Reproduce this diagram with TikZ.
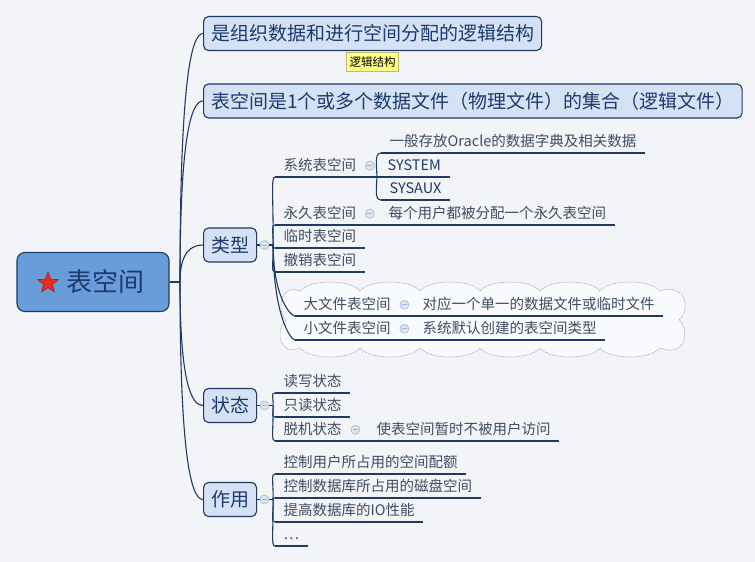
\documentclass[tikz,border=0pt]{standalone}
\usepackage{fontspec}
\setmainfont{Noto Sans CJK SC}
\usepackage{xcolor}
\usepackage{tikz}
\usetikzlibrary{positioning,shapes,calc}

\definecolor{bgC}{RGB}{243,244,248}
\definecolor{lineC}{RGB}{32,58,98}
\definecolor{mainC}{RGB}{28,58,108}
\definecolor{subC}{RGB}{62,76,98}
\definecolor{rootF}{RGB}{104,157,218}
\definecolor{topicF}{RGB}{213,226,246}
\definecolor{foldF}{RGB}{221,229,241}
\definecolor{foldD}{RGB}{160,182,212}
\definecolor{tagY}{RGB}{255,255,130}
\definecolor{tagD}{RGB}{190,185,120}
\definecolor{cloudF}{RGB}{249,250,253}
\definecolor{cloudD}{RGB}{150,150,158}
\definecolor{starR}{RGB}{235,45,35}
\definecolor{starD}{RGB}{170,30,30}

\begin{document}
\begin{tikzpicture}[x=1pt,y=-1pt,
  conn/.style={draw=lineC,line width=1.1pt},
  rootbox/.style={draw=lineC,line width=1.1pt,fill=rootF,rounded corners=8pt,text=mainC,
    font=\fontsize{26}{26}\selectfont,minimum width=152pt,minimum height=59pt,inner sep=0pt},
  topic/.style={draw=lineC,line width=1.1pt,fill=topicF,rounded corners=5pt,text=mainC,
    font=\fontsize{19}{19}\selectfont,minimum height=34pt,inner xsep=7.5pt,anchor=west},
  tag/.style={draw=tagD,line width=0.5pt,fill=tagY,font=\fontsize{11.5}{11.5}\selectfont,
    inner xsep=3pt,minimum height=19pt},
  leaf/.style={anchor=south west,inner xsep=8.5pt,inner ysep=4.5pt,text height=11pt,
    text depth=2pt,text=subC,font=\fontsize{14.5}{14.5}\selectfont},
  fold/.style={circle,draw=foldD,fill=foldF,line width=0.6pt,minimum size=9pt,inner sep=0pt,
    path picture={\draw[foldD,line width=0.9pt] ([xshift=-2.5pt]path picture bounding box.center)
      -- ([xshift=2.5pt]path picture bounding box.center);}},
  cloudline/.style={draw=cloudD,fill=cloudF,dash pattern=on 1.5pt off 1pt,line width=0.5pt},
  limb/.style={to path={.. controls ($(\tikztostart)!0.8!(\tikztostart|-\tikztotarget)$)
    and ([xshift=-12pt]\tikztotarget) .. (\tikztotarget)}},
  twig/.style={to path={.. controls ($(\tikztostart)!0.75!(\tikztostart|-\tikztotarget)$)
    and ([xshift=-4pt]\tikztotarget) .. (\tikztotarget)}},
  brace/.style={to path={.. controls ($(\tikztostart)!0.45!(\tikztostart|-\tikztotarget)$)
    and ([xshift=-7pt]\tikztotarget) .. (\tikztotarget)}}]
\fill[bgC] (0,0) rectangle (755,562);
\useasboundingbox (0,0) rectangle (755,562);

\path[cloudline] (300,291)
  \foreach \x in {300,360,...,600} { .. controls (\x+10,279) and (\x+50,279) .. (\x+60,291) }
  .. controls (688,282) and (690,312) .. (679,320)
  .. controls (690,330) and (686,358) .. (660,348)
  \foreach \x in {660,600,...,360} { .. controls (\x-10,360) and (\x-50,360) .. (\x-60,348) }
  .. controls (279,357) and (275,330) .. (286,320)
  .. controls (276,310) and (281,283) .. (300,291) -- cycle;

\node[rootbox] (root) at (93,282) {\hspace*{24pt}表空间};
\node[star,star points=5,star point ratio=2.4,fill=starR,draw=starD,line width=0.6pt,
  minimum size=22pt,inner sep=0pt] (rootstar) at (48,283) {};

\node[topic] (c1) at (203,33.5) {是组织数据和进行空间分配的逻辑结构};
\node[tag,below=1pt of c1] (c1tag) {逻辑结构};
\node[topic] (c2) at (203,101) {表空间是1个或多个数据文件（物理文件）的集合（逻辑文件）};
\node[topic] (c3) at (203,245) {类型};
\node[topic] (c4) at (203,405.5) {状态};
\node[topic] (c5) at (203,499.5) {作用};

\coordinate (trunk) at (180,282);
\draw[conn] (root.east) -- (trunk);
\foreach \c in {c1,c2,c3,c4,c5}
  \draw[conn] (trunk) to[limb] (\c.west);
\foreach \c in {c3,c4,c5} {
  \node[fold,right=2.5pt of \c] (\c f) {};
  \coordinate[right=4pt of \c f] (\c k);
  \draw[conn] (\c) -- (\c f) -- (\c k);
}

\node[leaf] (t1) at (275,177) {系统表空间};
\node[leaf] (t2) at (275,225) {永久表空间};
\node[leaf] (t3) at (275,248) {临时表空间};
\node[leaf] (t4) at (275,272) {撤销表空间};
\node[leaf] (t5) at (295,316) {大文件表空间};
\node[leaf] (t6) at (295,340) {小文件表空间};
\node[leaf] (s1) at (381,153) {一般存放Oracle的数据字典及相关数据};
\node[leaf,text=mainC] (s2) at (379,177) {SYSTEM};
\node[leaf,text=mainC] (s3) at (381,200) {SYSAUX};
\node[leaf] (p1) at (380,225) {每个用户都被分配一个永久表空间};
\node[leaf] (b1) at (414,316) {对应一个单一的数据文件或临时文件};
\node[leaf] (b2) at (414,340) {系统默认创建的表空间类型};
\node[leaf] (u1) at (275,393) {读写状态};
\node[leaf] (u2) at (275,417) {只读状态};
\node[leaf] (u3) at (275,441) {脱机状态};
\node[leaf] (u4) at (368,441) {使表空间暂时不被用户访问};
\node[leaf] (w1) at (275,474) {控制用户所占用的空间配额};
\node[leaf] (w2) at (275,498) {控制数据库所占用的磁盘空间};
\node[leaf] (w3) at (275,522) {提高数据库的IO性能};
\node[leaf] (w4) at (275,546) {\ldots};

\foreach \n in {t1,t2,t3,t4,t5,t6,s1,s2,s3,p1,b1,b2,u1,u2,u3,u4,w1,w2,w3,w4}
  \draw[conn] (\n.south west) -- (\n.south east);

\foreach \n in {t1,t2,t3,t4,t5,t6}
  \draw[conn] (c3k) to[twig] (\n.south west);
\foreach \n in {u1,u2,u3}
  \draw[conn] (c4k) to[twig] (\n.south west);
\foreach \n in {w1,w2,w3,w4}
  \draw[conn] (c5k) to[twig] (\n.south west);

\node[fold] (t1f) at ([xshift=5pt]t1.east) {};
\coordinate (t1k) at ([xshift=12pt]t1.south east);
\draw[conn] (t1.south east) -- (t1k);
\foreach \s in {s1,s2,s3}
  \draw[conn] (t1k) to[brace] (\s.south west);

\foreach \n/\m in {t2/p1,t5/b1,t6/b2,u3/u4} {
  \node[fold] (\n f) at ([xshift=5pt]\n.east) {};
  \draw[conn] (\n.south east) -- (\m.south west);
}
\end{tikzpicture}
\end{document}
